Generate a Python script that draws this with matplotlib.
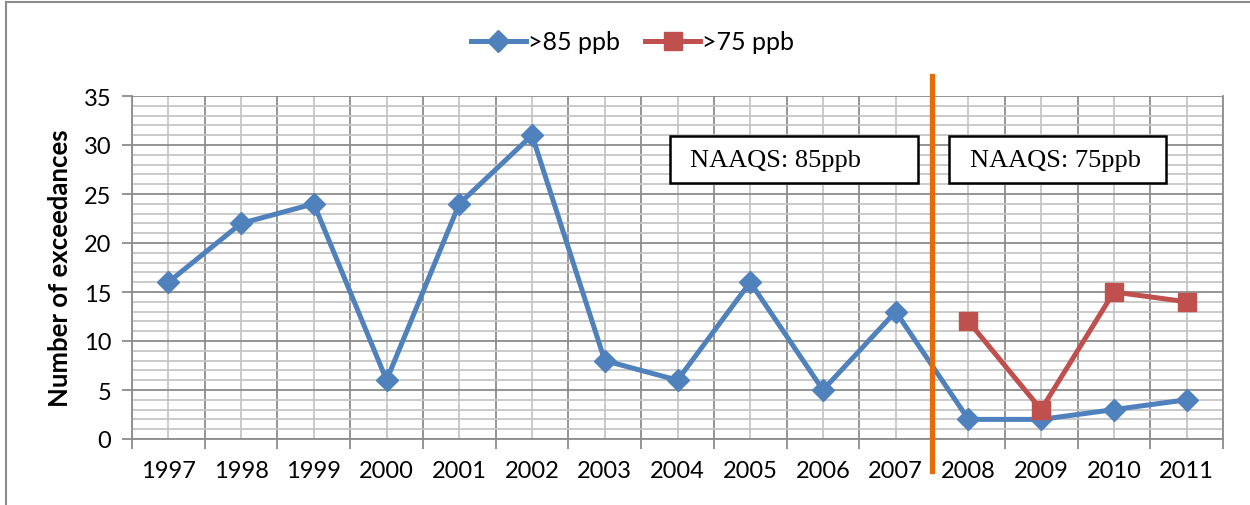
import matplotlib
matplotlib.use("Agg")
import matplotlib.pyplot as plt
from matplotlib.lines import Line2D
from matplotlib.patches import Rectangle
from matplotlib.ticker import MultipleLocator, FixedLocator

years = ["1997", "1998", "1999", "2000", "2001", "2002", "2003", "2004",
         "2005", "2006", "2007", "2008", "2009", "2010", "2011"]
over85 = [16, 22, 24, 6, 24, 31, 8, 6, 16, 5, 13, 2, 2, 3, 4]
years75 = ["2008", "2009", "2010", "2011"]
over75 = [12, 3, 15, 14]
label85 = ">85 ppb"
label75 = ">75 ppb"
box_left = "NAAQS: 85ppb"
box_right = "NAAQS: 75ppb"
ylabel = "Number of exceedances"

plt.rcParams['font.family'] = ['Lato', 'DejaVu Sans']

fig = plt.figure(figsize=(12.5, 5.06), dpi=100)
ax = fig.add_axes([132/1250, 66/506, (1223-132)/1250, (440-97)/506])

x = list(range(len(years)))
x75 = [years.index(y) for y in years75]

blue = "#4F81BD"
red = "#C0504D"
ax.plot(x, over85, color=blue, lw=3.6, marker="D", ms=11.5, label=label85, zorder=4)
ax.plot(x75, over75, color=red, lw=3.6, marker="s", ms=13.5, label=label75, zorder=4)

ax.set_xlim(-0.5, len(years) - 0.5)
ax.set_ylim(0, 35)

dark = "#8C8C8C"
light = "#C6C6C6"
ax.set_xticks(x)
ax.set_xticklabels(years, fontsize=17)
ax.xaxis.set_minor_locator(FixedLocator([i - 0.5 for i in range(len(years) + 1)]))
ax.yaxis.set_major_locator(MultipleLocator(5))
ax.yaxis.set_minor_locator(MultipleLocator(1))
ax.tick_params(axis="x", which="major", length=0, pad=15)
ax.tick_params(axis="x", which="minor", length=7, width=1.3, color=dark)
ax.tick_params(axis="y", which="major", length=7, width=1.3, color=dark, labelsize=17, pad=8)
ax.tick_params(axis="y", which="minor", length=0)

ax.grid(True, axis="x", which="minor", color=dark, lw=1.3, zorder=0)
ax.grid(True, axis="x", which="major", color=light, lw=1.3, zorder=0)
ax.grid(True, axis="y", which="major", color=dark, lw=1.3, zorder=1)
ax.grid(True, axis="y", which="minor", color=light, lw=1.3, zorder=0)
ax.set_axisbelow(True)
ax.spines["top"].set_visible(False)
for s in ["left", "bottom", "right"]:
    ax.spines[s].set_color(dark)
    ax.spines[s].set_linewidth(1.3)

ax.set_ylabel(ylabel, fontsize=18.5, fontweight="bold", labelpad=8)

# boundary line between standards
ax.plot([10.5, 10.5], [-3.3, 37.0], color="#E46C0A", lw=3.8, clip_on=False, zorder=5)

# annotation boxes
for (x0, x1, tx, txt) in [(6.9, 10.31, 7.17, box_left), (10.73, 13.72, 11.02, box_right)]:
    ax.add_patch(Rectangle((x0, 26.1), x1 - x0, 4.8, fc="white", ec="black", lw=1.8, zorder=6))
    ax.text(tx, 28.45, txt, fontsize=19, family="Liberation Serif",
            ha="left", va="center", zorder=7)

fig.legend(loc="center", bbox_to_anchor=(0.506, 1 - 43/506), ncol=2, frameon=False,
           fontsize=18, handlelength=2.2, columnspacing=1.0, handletextpad=0.1)

# outer chart frame
fig.add_artist(Line2D([6/1250, 6/1250], [0, 1 - 3/506], transform=fig.transFigure, color="#8C8C8C", lw=1.5))
fig.add_artist(Line2D([6/1250, 1], [1 - 3/506, 1 - 3/506], transform=fig.transFigure, color="#8C8C8C", lw=1.5))

fig.savefig("out.png", dpi=100)
